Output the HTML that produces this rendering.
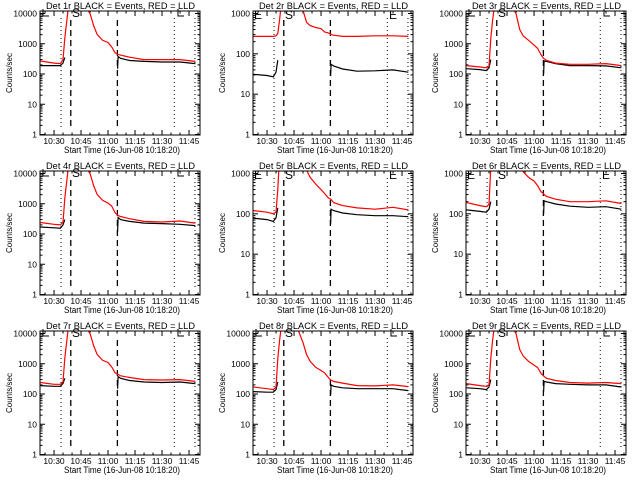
<!DOCTYPE html>
<html><head><meta charset="utf-8">
<style>
html,body{margin:0;padding:0;background:#fff;}
svg{display:block;}
text{font-family:"Liberation Sans",sans-serif;fill:#000;}
</style></head>
<body>
<svg id="chart" width="640" height="480" viewBox="0 0 640 480" xmlns="http://www.w3.org/2000/svg">
<rect width="640" height="480" fill="#fff"/>
</svg>
<script>
// shared sample times (minutes after 10:00)
const times = [22.5,30,33.5,35,36,37,38.5,45,50,52,54,57,60,62,64,65.3,65.6,67,72,80,90,100,108.5];
const detNames = ["1r","2r","3r","4r","5r","6r","7r","8r","9r"];
const decades = [4,3,4,4,3,3,4,4,4];
const N = null;
const red1 = [270,230,220,300,1500,5000,30000,30000,10000,4000,2000,1300,1100,800,500,450,440,420,360,300,300,300,260];
const blk1 = [190,190,190,230,350,N,N,N,N,N,N,N,N,N,N,150,380,330,280,260,250,250,220];
const red2 = [270,270,270,280,320,700,3000,3000,1200,600,500,450,420,350,330,310,300,290,270,270,280,280,270];
const blk2 = [31,29,27,35,70,N,N,N,N,N,N,N,N,N,N,28,55,50,42,37,38,40,35];
const red3 = [190,170,160,180,1500,6000,30000,30000,10000,3000,1800,1300,900,700,420,330,320,280,230,210,210,220,190];
const blk3 = [150,140,130,160,300,N,N,N,N,N,N,N,N,N,N,100,270,260,220,190,190,185,160];
const red4 = [240,210,200,240,1500,5000,30000,30000,10000,4000,2000,1300,1050,850,500,420,410,380,320,260,250,270,230];
const blk4 = [170,160,155,200,300,N,N,N,N,N,N,N,N,N,N,120,350,300,260,230,220,210,190];
const red5 = [120,110,100,110,400,3000,3000,3000,3000,1200,800,550,400,320,250,230,225,190,160,140,130,145,125];
const blk5 = [78,72,65,80,140,N,N,N,N,N,N,N,N,N,N,55,130,120,105,95,90,90,85];
const red6 = [190,160,150,170,1500,3000,3000,3000,3000,3000,1100,800,650,500,350,320,300,270,230,200,200,210,180];
const blk6 = [125,115,110,130,200,N,N,N,N,N,N,N,N,N,N,100,210,200,175,155,145,150,130];
const red7 = [240,210,210,250,1500,5000,30000,30000,10000,4000,2000,1300,1100,800,500,450,440,400,350,300,290,300,260];
const blk7 = [190,180,180,220,330,N,N,N,N,N,N,N,N,N,N,150,380,330,280,250,240,250,220];
const red8 = [170,150,140,170,1500,6000,30000,30000,5000,2000,1200,770,600,500,360,290,285,260,230,190,185,200,175];
const blk8 = [120,115,115,140,250,N,N,N,N,N,N,N,N,N,N,90,200,180,160,150,150,150,130];
const red9 = [220,190,180,200,1500,6000,30000,30000,10000,3000,1800,1200,900,750,470,400,380,330,280,240,230,240,220];
const blk9 = [160,150,140,170,300,N,N,N,N,N,N,N,N,N,N,120,260,250,220,210,200,200,170];
const redSeries = [red1,red2,red3,red4,red5,red6,red7,red8,red9];
const blackSeries = [blk1,blk2,blk3,blk4,blk5,blk6,blk7,blk8,blk9];
const xTickMinutes = [30,45,60,75,90,105];
const xTickLabels = ["10:30","10:45","11:00","11:15","11:30","11:45"];
const dottedMarks = [33.9,96.8,108.3];
const dashedMarks = [39.3,65.2];

const NS = "http://www.w3.org/2000/svg";
const svg = document.getElementById("chart");
function mk(tag, attrs, parent){
  const e = document.createElementNS(NS, tag);
  for (const k in attrs) e.setAttribute(k, attrs[k]);
  parent.appendChild(e);
  return e;
}
const L=40,R=200,T=11,B=135;
const X0=22.2, X1=111.1;

for (let p=0;p<9;p++){
  const ox=(p%3)*213, oy=Math.floor(p/3)*160;
  const nd=decades[p];
  const xs = m => L+(m-X0)/(X1-X0)*(R-L);
  const ys = v => 134.5-Math.log10(v)/nd*(134.5-13.5);
  const g = mk("g",{transform:`translate(${ox},${oy})`},svg);
  
  
  const cp = mk("clipPath",{id:"clip"+p},g);
  mk("rect",{x:L,y:T,width:R-L,height:B-T},cp);

  // title
  const title = mk("text",{x:0,y:0,"font-size":"9.5",transform:"translate(46,9)",textLength:"149",lengthAdjust:"spacingAndGlyphs"},g);
  title.textContent = "Det "+detNames[p]+" BLACK = Events, RED = LLD";
  
  

  // y ticks
  for (let d=0; d<=nd; d++){
    const y=ys(Math.pow(10,d));
    mk("line",{x1:L,y1:y,x2:L+5,y2:y,stroke:"#000"},g);
    mk("line",{x1:R,y1:y,x2:R-5,y2:y,stroke:"#000"},g);
    const t=mk("text",{x:37,y:y+3,"font-size":"8.5","text-anchor":"end"},g);
    t.textContent=String(Math.pow(10,d));
    
    
    if (d<nd) for (let k=2;k<10;k++){
      const yy=ys(k*Math.pow(10,d));
      mk("line",{x1:L,y1:yy,x2:L+2.5,y2:yy,stroke:"#000"},g);
      mk("line",{x1:R,y1:yy,x2:R-2.5,y2:yy,stroke:"#000"},g);
    }
  }
  // x ticks
  for (let m=25;m<=110;m+=5){
    const x=xs(m), major = (m%15===0);
    const len = major?5:2.5;
    mk("line",{x1:x,y1:B,x2:x,y2:B-len,stroke:"#000"},g);
    mk("line",{x1:x,y1:T,x2:x,y2:T+len,stroke:"#000"},g);
  }
  xTickMinutes.forEach((m,i)=>{
    const t=mk("text",{x:xs(m),y:144,"font-size":"8.5","text-anchor":"middle"},g);
    t.textContent=xTickLabels[i];
    
    
  });
  const xt=mk("text",{x:64,y:153,"font-size":"9","text-anchor":"start",textLength:"116",lengthAdjust:"spacingAndGlyphs"},g);
  xt.textContent="Start Time (16-Jun-08 10:18:20)";
  
  
  const yt=mk("text",{x:0,y:0,"font-size":"8","text-anchor":"middle",transform:"translate(12,73) rotate(-90)"},g);
  yt.textContent="Counts/sec";
  
  

  // vertical markers
  dottedMarks.forEach(m=>{
    const l=mk("line",{x1:xs(m),y1:18,x2:xs(m),y2:128,stroke:"#000","stroke-dasharray":"1,3"},g);
    
    
  });
  dashedMarks.forEach(m=>{
    const l=mk("line",{x1:xs(m),y1:20,x2:xs(m),y2:127,stroke:"#000","stroke-width":"1.3","stroke-dasharray":"6,4"},g);
    
    
  });

  // series
  const cg = mk("g",{"clip-path":`url(#clip${p})`},g);
  [[blackSeries[p],"#000","black-events-line"],[redSeries[p],"#f00","red-lld-line"]].forEach(([arr,col,nm])=>{
    let d="", pen=false;
    arr.forEach((v,i)=>{
      if (v===null){pen=false;return;}
      d += (pen?"L":"M")+xs(times[i]).toFixed(1)+","+ys(v).toFixed(1);
      pen=true;
    });
    const path=mk("path",{d:d,fill:"none",stroke:col,"stroke-width":"1.2"},cg);
    
    
  });

  // S / E labels
  const s=mk("text",{x:72,y:nd===4?17:19,"font-size":"12"},g);
  s.textContent="S";
  
  
  if (nd===3){
    const e1=mk("text",{x:41,y:19,"font-size":"12"},g);
    e1.textContent="E";
    
    
    const e2=mk("text",{x:176,y:19,"font-size":"12"},g);
    e2.textContent="E";
    
    
  } else {
    [43,178].forEach(x=>{
      const b=mk("path",{d:`M${x},9V16H${x+6}`,fill:"none",stroke:"#000"},g);
      
      
    });
  }
  // box
  const box=mk("rect",{x:L,y:T,width:R-L,height:B-T,fill:"none",stroke:"#000"},g);
  
  
}
</script>
</body></html>
